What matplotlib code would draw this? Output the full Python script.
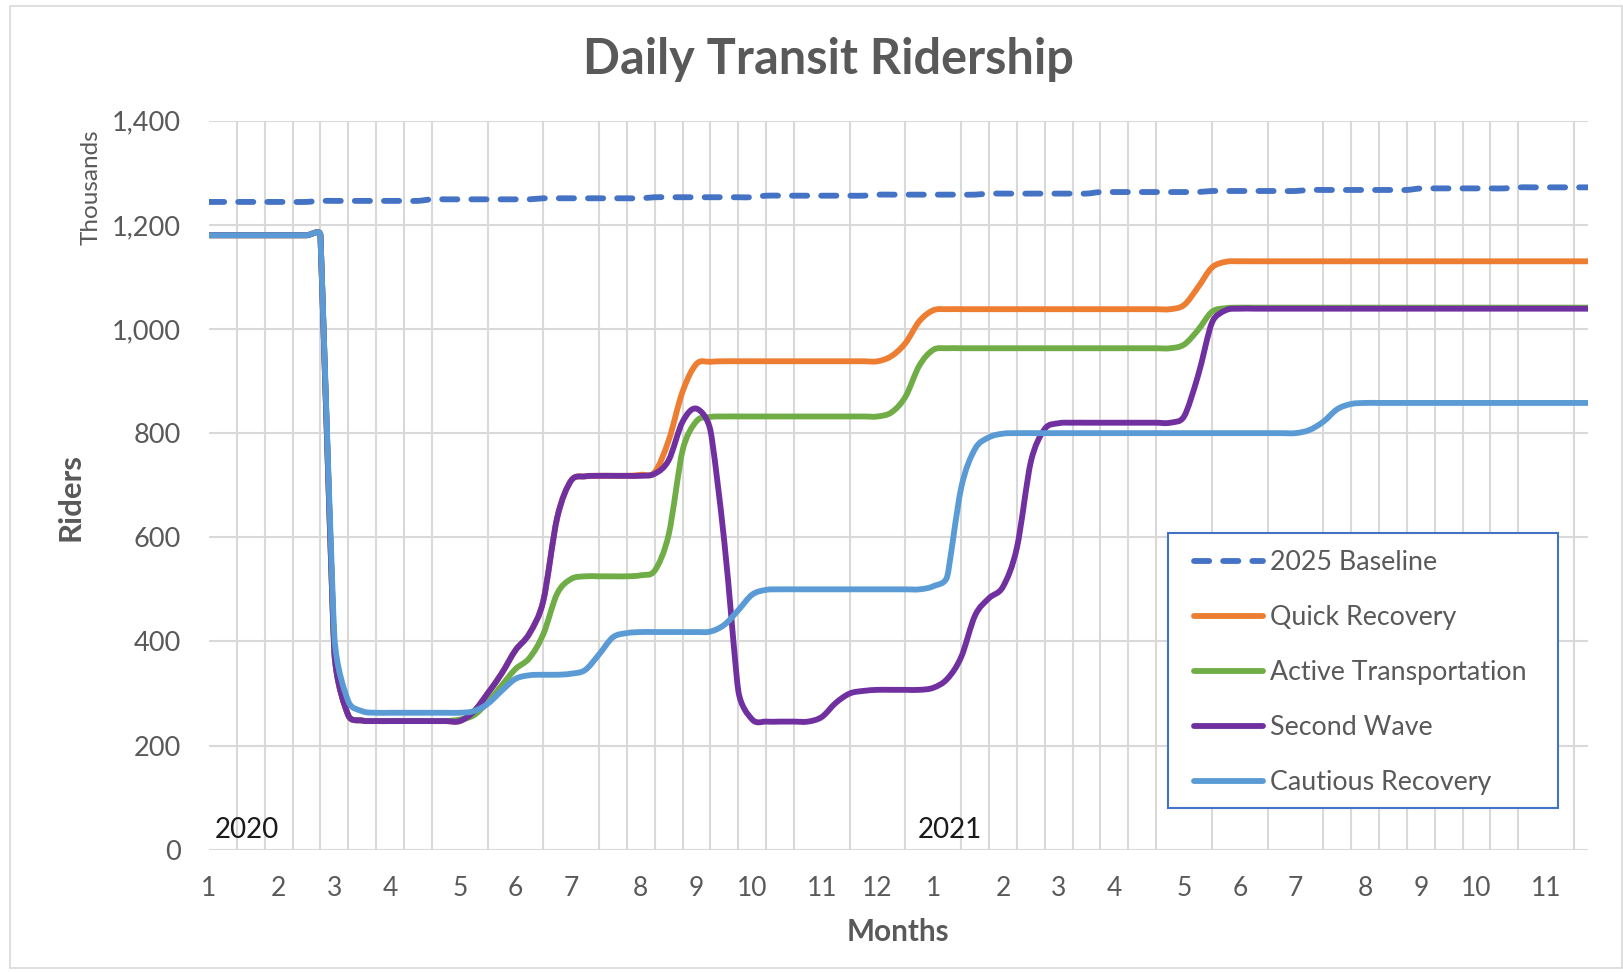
import matplotlib
matplotlib.use('Agg')
import matplotlib.pyplot as plt
from matplotlib.path import Path
from matplotlib.patches import PathPatch, Rectangle
from matplotlib.lines import Line2D
from matplotlib.ticker import FuncFormatter
import numpy as np

plt.rcParams['font.family'] = ['Lato', 'DejaVu Sans']

# ---------------- data (weekly points, thousands of riders) ----------------
month_label_weeks = [0, 5, 9, 13, 18, 22, 26, 31, 35, 39, 44, 48,
                     52, 57, 61, 65, 70, 74, 78, 83, 87, 91, 96]
month_labels = ['1', '2', '3', '4', '5', '6', '7', '8', '9', '10', '11', '12',
                '1', '2', '3', '4', '5', '6', '7', '8', '9', '10', '11']
year_labels = ['2020', '2021']
year_label_weeks = [0.4, 50.9]

baseline = [1244, 1244, 1244, 1244, 1244, 1244, 1244, 1244, 1246, 1246,
            1246, 1246, 1246, 1246, 1246, 1246, 1249, 1249, 1249, 1249,
            1249, 1249, 1249, 1249, 1251, 1251, 1251, 1251, 1251, 1251,
            1251, 1251, 1253, 1253, 1253, 1253, 1253, 1253, 1253, 1253,
            1256, 1256, 1256, 1256, 1256, 1256, 1256, 1256, 1258, 1258,
            1258, 1258, 1258, 1258, 1258, 1258, 1260, 1260, 1260, 1260,
            1260, 1260, 1260, 1260, 1263, 1263, 1263, 1263, 1263, 1263,
            1263, 1263, 1265, 1265, 1265, 1265, 1265, 1265, 1265, 1267,
            1267, 1267, 1267, 1267, 1267, 1267, 1267, 1270, 1270, 1270,
            1270, 1270, 1270, 1270, 1272, 1272, 1272, 1272, 1272, 1272]

quick = [1180, 1180, 1180, 1180, 1180, 1180, 1180, 1180, 1180, 380,
         258, 248, 247, 247, 247, 247, 247, 247, 247, 265,
         300, 338, 383, 415, 478, 638, 709, 717, 718, 718,
         718, 720, 725, 786, 880, 933, 937, 938, 938, 938,
         938, 938, 938, 938, 938, 938, 938, 938, 938, 948,
         973, 1015, 1036, 1038, 1038, 1038, 1038, 1038, 1038, 1038,
         1038, 1038, 1038, 1038, 1038, 1038, 1038, 1038, 1038, 1038,
         1046, 1080, 1118, 1129, 1130, 1130, 1130, 1130, 1130, 1130,
         1130, 1130, 1130, 1130, 1130, 1130, 1130, 1130, 1130, 1130,
         1130, 1130, 1130, 1130, 1130, 1130, 1130, 1130, 1130, 1130]

active = [1180, 1180, 1180, 1180, 1180, 1180, 1180, 1180, 1180, 380,
          258, 248, 247, 247, 247, 247, 247, 247, 250, 258,
          283, 315, 347, 368, 414, 492, 520, 525, 525, 525,
          525, 527, 536, 605, 767, 823, 831, 832, 832, 832,
          832, 832, 832, 832, 832, 832, 832, 832, 832, 840,
          870, 930, 960, 963, 963, 963, 963, 963, 963, 963,
          963, 963, 963, 963, 963, 963, 963, 963, 963, 963,
          970, 998, 1033, 1040, 1041, 1041, 1041, 1041, 1041, 1041,
          1041, 1041, 1041, 1041, 1041, 1041, 1041, 1041, 1041, 1041,
          1041, 1041, 1041, 1041, 1041, 1041, 1041, 1041, 1041, 1041]

second = [1180, 1180, 1180, 1180, 1180, 1180, 1180, 1180, 1180, 380,
          258, 248, 247, 247, 247, 247, 247, 247, 247, 265,
          300, 338, 383, 415, 478, 638, 709, 717, 718, 718,
          718, 718, 722, 748, 822, 847, 805, 590, 305, 250,
          246, 246, 246, 246, 255, 282, 300, 305, 307, 307,
          307, 307, 311, 328, 370, 450, 483, 505, 580, 745,
          808, 819, 820, 820, 820, 820, 820, 820, 820, 820,
          832, 910, 1012, 1036, 1039, 1039, 1039, 1039, 1039, 1039,
          1039, 1039, 1039, 1039, 1039, 1039, 1039, 1039, 1039, 1039,
          1039, 1039, 1039, 1039, 1039, 1039, 1039, 1039, 1039, 1039]

cautious = [1180, 1180, 1180, 1180, 1180, 1180, 1180, 1180, 1180, 410,
            285, 266, 263, 263, 263, 263, 263, 263, 263, 266,
            280, 305, 328, 335, 336, 336, 338, 345, 375, 408,
            416, 418, 418, 418, 418, 418, 419, 432, 460, 490,
            499, 500, 500, 500, 500, 500, 500, 500, 500, 500,
            500, 500, 506, 525, 695, 770, 792, 799, 800, 800,
            800, 800, 800, 800, 800, 800, 800, 800, 800, 800,
            800, 800, 800, 800, 800, 800, 800, 800, 800, 806,
            822, 846, 856, 858, 858, 858, 858, 858, 858, 858,
            858, 858, 858, 858, 858, 858, 858, 858, 858, 858]

series_names = ['2025 Baseline', 'Quick Recovery', 'Active Transportation',
                'Second Wave', 'Cautious Recovery']
series_values = [baseline, quick, active, second, cautious]
series_colors = ['#4472C4', '#ED7D31', '#70AD47', '#7030A0', '#5B9BD5']

# ---------------- figure ----------------
W, H = 1624, 973
fig = plt.figure(figsize=(W / 100, H / 100), dpi=100)
fig.patch.set_facecolor('white')

ax_l, ax_r, ax_t, ax_b = 209, 1588, 120.7, 849.7
ax = fig.add_axes([ax_l / W, 1 - ax_b / H, (ax_r - ax_l) / W, (ax_b - ax_t) / H])
ax.set_xlim(0, len(baseline) - 1)
ax.set_ylim(0, 1400)

grid_c = '#D9D9D9'
ax.set_yticks(range(0, 1401, 200))
ax.yaxis.set_major_formatter(FuncFormatter(lambda v, p: f'{int(v):,}'))
ax.set_xticks(month_label_weeks)
ax.set_xticklabels(month_labels)
ax.set_xticks(range(0, len(baseline), 2), minor=True)
ax.grid(which='minor', axis='x', color=grid_c, lw=1.5)
ax.grid(which='major', axis='y', color=grid_c, lw=1.5)
ax.grid(which='major', axis='x', visible=False)
ax.set_axisbelow(True)
for s in ax.spines.values():
    s.set_visible(False)
ax.tick_params(axis='both', which='both', length=0)
ax.tick_params(axis='x', pad=19, labelsize=19, labelcolor='#595959')
ax.tick_params(axis='y', pad=20, labelsize=19.5, labelcolor='#595959')


def smooth_path(ax, xs, ys):
    """Excel-style smoothed line: Bezier segments through the points."""
    P = ax.transData.transform(np.column_stack([xs, ys]))
    n = len(P)
    c_out = np.zeros_like(P)
    c_in = np.zeros_like(P)
    for i in range(n):
        prev = P[i - 1] if i > 0 else P[i]
        nxt = P[i + 1] if i < n - 1 else P[i]
        T = nxt - prev
        D = np.hypot(*T)
        d_prev = np.hypot(*(P[i] - prev))
        d_next = np.hypot(*(nxt - P[i]))
        lims = [d for d in (d_prev, d_next) if d > 0]
        f = 1 / 6
        if D > 0 and lims:
            lim = min(lims)
            if f * D > lim / 2:
                f = lim / (2 * D)
        c_out[i] = P[i] + f * T
        c_in[i] = P[i] - f * T
    verts = [P[0]]
    codes = [Path.MOVETO]
    for i in range(n - 1):
        verts += [c_out[i], c_in[i + 1], P[i + 1]]
        codes += [Path.CURVE4] * 3
    verts = ax.transData.inverted().transform(np.array(verts))
    return Path(verts, codes)


weeks = np.arange(len(baseline))
dash = (0, (2.6, 2.4))
handles = []
for k, (name, vals, col) in enumerate(zip(series_names, series_values, series_colors)):
    ls = dash if k == 0 else '-'
    patch = PathPatch(smooth_path(ax, weeks, vals), fill=False, edgecolor=col,
                      lw=4.2, linestyle=ls, capstyle='round', joinstyle='round',
                      zorder=3 + k)
    ax.add_patch(patch)
    handles.append(Line2D([], [], color=col, lw=4.2, linestyle=ls,
                          dash_capstyle='round', solid_capstyle='round'))

# legend frame (drawn as a box) and legend entries
leg_box = Rectangle((0.6957, 0.0573), 0.978 - 0.6957, 0.4339 - 0.0573,
                    transform=ax.transAxes, facecolor='white',
                    edgecolor='#4472C4', lw=1.5, zorder=9)
ax.add_patch(leg_box)
leg = ax.legend(handles, series_names, loc='upper left',
                bbox_to_anchor=(0.7145, 0.4111),
                bbox_transform=ax.transAxes, frameon=False,
                fontsize=19.3, handlelength=2.55, handletextpad=0.27,
                labelspacing=1.12, borderpad=0, borderaxespad=0)
for t in leg.get_texts():
    t.set_color('#595959')
leg.set_zorder(10)

for lab, wk in zip(year_labels, year_label_weeks):
    ax.text(wk, 38, lab, fontsize=20, color='#1a1a1a', ha='left', va='center')

# titles and axis labels
fig.text(828 / W, 1 - 59 / H, 'Daily Transit Ridership', fontsize=35,
         fontweight='bold', color='#595959', ha='center', va='center')
fig.text(70 / W, 1 - 497 / H, 'Riders', fontsize=22.5, fontweight='bold',
         color='#595959', rotation=90, ha='center', va='center')
fig.text(91 / W, 1 - 187 / H, 'Thousands', fontsize=17.5, color='#595959',
         rotation=90, ha='center', va='center')
fig.text(898 / W, 1 - 932 / H, 'Months', fontsize=21.4, fontweight='bold',
         color='#595959', ha='center', va='center')

# chart-area border
fig.patches.append(Rectangle((10 / W, 1 - 968 / H), (1622 - 10) / W, (968 - 6) / H,
                             transform=fig.transFigure, fill=False,
                             edgecolor='#D9D9D9', lw=1.2))

fig.savefig('out.png', dpi=100, facecolor='white')
